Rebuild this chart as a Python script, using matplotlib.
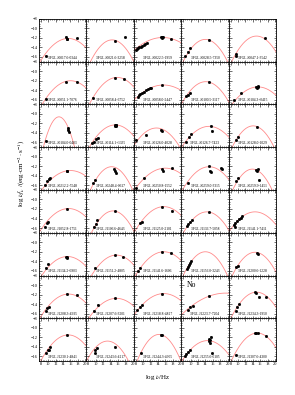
import numpy as np
import matplotlib.pyplot as plt
from matplotlib.ticker import MultipleLocator

plt.rcParams['font.family'] = ['Liberation Serif', 'DejaVu Serif']
plt.rcParams['mathtext.fontset'] = 'stix'

labels = [
    '3FGL J0017.6-0344', '3FGL J0021.6-3258', '3FGL J0022.5-1959', '3FGL J0028.5-7350', '3FGL J0047.1-3542',
    '3FGL J0051.1-7076', '3FGL J0058.4-6752', '3FGL J0058.0-2447', '3FGL J0100.5-3117', '3FGL J0104.3+0415',
    '3FGL J0104.0-0403', '3FGL J0114.1+1335', '3FGL J0126.0-4028', '3FGL J0126.7-7423', '3FGL J0128.0-1029',
    '3FGL J0212.2-5548', '3FGL J0248.4-0617', '3FGL J0250.8-1552', '3FGL J0259.0-3315', '3FGL J0259.9-1451',
    '3FGL J1052.8-1751', '3FGL J1106.6-4643', '3FGL J1125.0-2101', '3FGL J1136.7-5058', '3FGL J1141.1-7411',
    '3FGL J1134.2-6903', '3FGL J1151.2-4805', '3FGL J1141.6-1606', '3FGL J1156.0-3243', '3FGL J1200.6-1228',
    '3FGL J1208.3-4935', '3FGL J1207.6-3201', '3FGL J1218.8-4827', '3FGL J1223.7-7204', '3FGL J1234.3-1950',
    '3FGL J1230.1-4841', '3FGL J1243.6-4217', '3FGL J1244.3-4955', '3FGL J1255.6-6105', '3FGL J1307.6-4300',
]

# log-parabola fit: peak frequency, peak flux, curvature
peak_nu = [15.4, 14.45, 15.3, 14.0, 15.0,
           16.0, 15.8, 15.5, 14.1, 15.4,
           12.9, 15.3, 13.6, 15.0, 14.1,
           16.0, 14.3, 16.0, 15.0, 13.9,
           15.5, 14.7, 15.6, 14.4, 14.6,
           15.2, 15.6, 15.6, 14.0, 14.6,
           15.5, 15.6, 15.6, 19.5, 15.0,
           15.4, 13.2, 14.3, 14.6, 15.2]
peak_flux = [-12.1, -12.4, -11.9, -12.3, -11.6,
             -12.0, -11.3, -12.9, -12.2, -13.3,
             -10.6, -12.3, -12.95, -12.6, -12.5,
             -12.9, -12.1, -12.4, -12.1, -12.6,
             -11.9, -12.4, -11.5, -12.6, -12.6,
             -13.0, -12.7, -12.0, -12.0, -12.1,
             -11.9, -12.8, -11.8, -11.7, -11.5,
             -11.5, -12.8, -11.4, -12.7, -11.1]
curv = [-0.085, -0.134, -0.045, -0.13, -0.12,
        -0.085, -0.1, -0.05, -0.11, -0.075,
        -0.36, -0.095, -0.1, -0.08, -0.14,
        -0.068, -0.15, -0.066, -0.095, -0.155,
        -0.08, -0.135, -0.085, -0.11, -0.085,
        -0.083, -0.095, -0.085, -0.14, -0.13,
        -0.085, -0.075, -0.07, -0.032, -0.115,
        -0.1, -0.13, -0.16, -0.09, -0.12]

pts_x = [
    [9.4, 14.8, 15.0, 15.1, 17.7], [15.3, 17.8],
    [8.0, 8.3, 8.6, 9.0, 9.4, 9.8, 10.2, 10.6, 11.0, 14.8, 15.0, 15.2, 15.3, 17.5],
    [8.6, 9.2, 9.9, 14.9], [9.4, 9.6, 17.4],
    [9.3, 14.8, 17.7], [9.2, 15.3, 17.7],
    [8.5, 8.9, 9.3, 9.8, 10.3, 10.8, 11.3, 11.8, 12.1, 15.2],
    [8.8, 9.2, 9.9, 14.9], [8.9, 10.8, 15.0, 15.2, 15.3, 15.4],
    [9.3, 15.3, 15.3, 15.6], [8.9, 9.5, 10.2, 10.6, 15.2, 15.3, 15.4, 15.5, 15.6],
    [8.1, 10.7, 14.9, 15.0], [8.8, 9.7, 10.1, 15.6, 15.9], [9.4, 9.9, 15.2],
    [9.1, 9.8, 10.3, 10.5, 15.0, 15.2], [9.4, 9.8, 15.0, 15.3, 15.6],
    [8.0, 10.3, 15.1, 15.3, 17.9], [9.4, 14.9, 15.2, 15.4, 18.3, 18.6],
    [9.6, 10.1, 14.9, 15.1, 15.3, 15.7],
    [9.1, 9.6, 10.0, 15.0], [9.5, 10.0, 10.4, 15.1], [9.3, 9.6, 15.2, 17.7],
    [9.0, 9.4, 9.8, 10.3, 15.1], [8.9, 9.3, 9.8, 10.3, 10.8, 11.2, 9.1],
    [9.3, 10.0, 14.8, 15.0, 15.2], [9.7, 15.3, 17.3], [8.6, 9.2, 15.2, 17.6],
    [9.0, 9.3, 9.6, 9.9, 10.2], [9.6, 9.9, 15.1, 15.3],
    [9.3, 9.8, 10.1, 15.0, 17.7], [9.6, 10.6, 15.3], [8.3, 9.2, 9.6, 15.2],
    [9.2, 9.9, 10.6, 15.1], [9.4, 9.8, 10.3, 14.6, 14.8, 15.7, 17.7],
    [9.3, 10.0, 10.5, 10.3, 15.0], [9.7, 9.9, 10.4, 15.3], [9.4, 14.8, 15.0],
    [8.4, 8.9, 9.4, 9.9, 15.0, 15.1, 15.2, 15.3, 15.5, 15.9], [9.4, 14.6, 15.0, 15.4, 17.7],
]
pts_y = [
    [-15.8, -11.7, -12.3, -12.2, -12.1], [-12.6, -11.9],
    [-14.5, -14.3, -14.1, -14.0, -13.8, -13.6, -13.4, -13.2, -13.0, -11.9, -11.7, -12.0, -11.8, -12.3],
    [-15.9, -14.9, -14.2, -12.4], [-15.9, -15.4, -12.1],
    [-15.8, -12.2, -12.2], [-15.6, -11.4, -11.6],
    [-15.4, -15.1, -14.8, -14.6, -14.3, -14.0, -13.8, -13.6, -13.5, -12.95],
    [-15.3, -15.0, -14.6, -12.2], [-16.0, -14.6, -13.3, -13.5, -13.4, -13.2],
    [-15.7, -12.9, -13.3, -13.8], [-16.2, -15.8, -15.2, -15.0, -12.3, -12.6, -12.4, -12.5, -12.3],
    [-15.4, -14.4, -13.3, -13.5], [-15.8, -14.9, -14.3, -12.5, -13.5], [-15.4, -14.8, -12.7],
    [-15.9, -15.2, -14.7, -14.4, -13.0, -13.1], [-15.6, -14.9, -12.6, -13.1, -13.5],
    [-16.6, -14.5, -12.6, -12.9, -12.4], [-15.5, -12.0, -13.0, -13.2, -12.4, -12.5],
    [-15.2, -14.5, -12.8, -12.9, -12.6, -14.9],
    [-15.7, -15.0, -14.7, -11.9], [-15.8, -15.1, -14.4, -12.5], [-15.0, -14.7, -11.5, -12.4],
    [-15.6, -15.2, -14.8, -14.3, -12.7], [-15.3, -14.9, -14.5, -14.1, -13.8, -13.5, -15.7],
    [-15.4, -14.6, -13.2, -13.1, -13.3], [-15.4, -12.7, -13.2], [-16.0, -15.4, -12.0, -12.2],
    [-15.7, -15.2, -14.8, -14.4, -14.0], [-15.2, -15.0, -12.3, -12.4],
    [-15.4, -14.9, -14.7, -11.9, -12.1], [-15.4, -14.2, -12.8], [-15.3, -14.6, -14.3, -11.8],
    [-15.3, -14.6, -14.4, -12.3], [-15.4, -14.6, -14.1, -11.5, -11.6, -12.5, -12.6],
    [-15.4, -14.7, -14.1, -14.6, -11.5], [-15.4, -14.7, -14.2, -14.0], [-15.4, -11.5, -11.6],
    [-15.9, -15.5, -15.0, -14.6, -12.4, -12.8, -13.1, -12.6, -11.9, -15.4], [-15.7, -11.2, -11.1, -11.2, -11.7],
]

nrows, ncols = 8, 5
fig, axes = plt.subplots(nrows, ncols, figsize=(2.95, 3.95), dpi=100, sharex=True, sharey=True)
plt.subplots_adjust(left=0.132, right=0.936, top=0.952, bottom=0.086, wspace=0, hspace=0)

xx = np.linspace(7.0, 21.0, 300)
for i, ax in enumerate(axes.flat):
    yy = peak_flux[i] + curv[i] * (xx - peak_nu[i]) ** 2
    ax.plot(xx, yy, color='#ff8a8a', lw=0.6, zorder=1)
    ax.errorbar(pts_x[i], pts_y[i], yerr=0.12, fmt='s', color='black', ms=1.0,
                elinewidth=0.3, capsize=0, zorder=2)
    ax.text(0.5, 0.05, labels[i], transform=ax.transAxes, ha='center', va='bottom', fontsize=2.6)
    ax.set_xlim(7.5, 20.3)
    ax.set_ylim(-17, -8)
    ax.xaxis.set_major_locator(MultipleLocator(2))
    ax.xaxis.set_minor_locator(MultipleLocator(0.5))
    ax.yaxis.set_major_locator(MultipleLocator(2))
    ax.yaxis.set_minor_locator(MultipleLocator(0.5))
    ax.tick_params(which='both', direction='in', top=True, right=True, labelsize=3.2, pad=1, width=0.4)
    ax.tick_params(which='major', length=1.8)
    ax.tick_params(which='minor', length=0.9)
    for s in ax.spines.values():
        s.set_linewidth(0.6)

axes[6, 3].text(0.12, 0.72, 'No', transform=axes[6, 3].transAxes, fontsize=5.5)

fig.text(0.535, 0.045, r'log $\nu$/Hz', ha='center', va='center', fontsize=5)
fig.text(0.075, 0.56, r'log $\nu f_\nu$ /(erg$\cdot$cm$^{-2}\cdot$s$^{-1}$)', rotation=90,
         ha='center', va='center', fontsize=5)

fig.savefig('out.png', dpi=100)
